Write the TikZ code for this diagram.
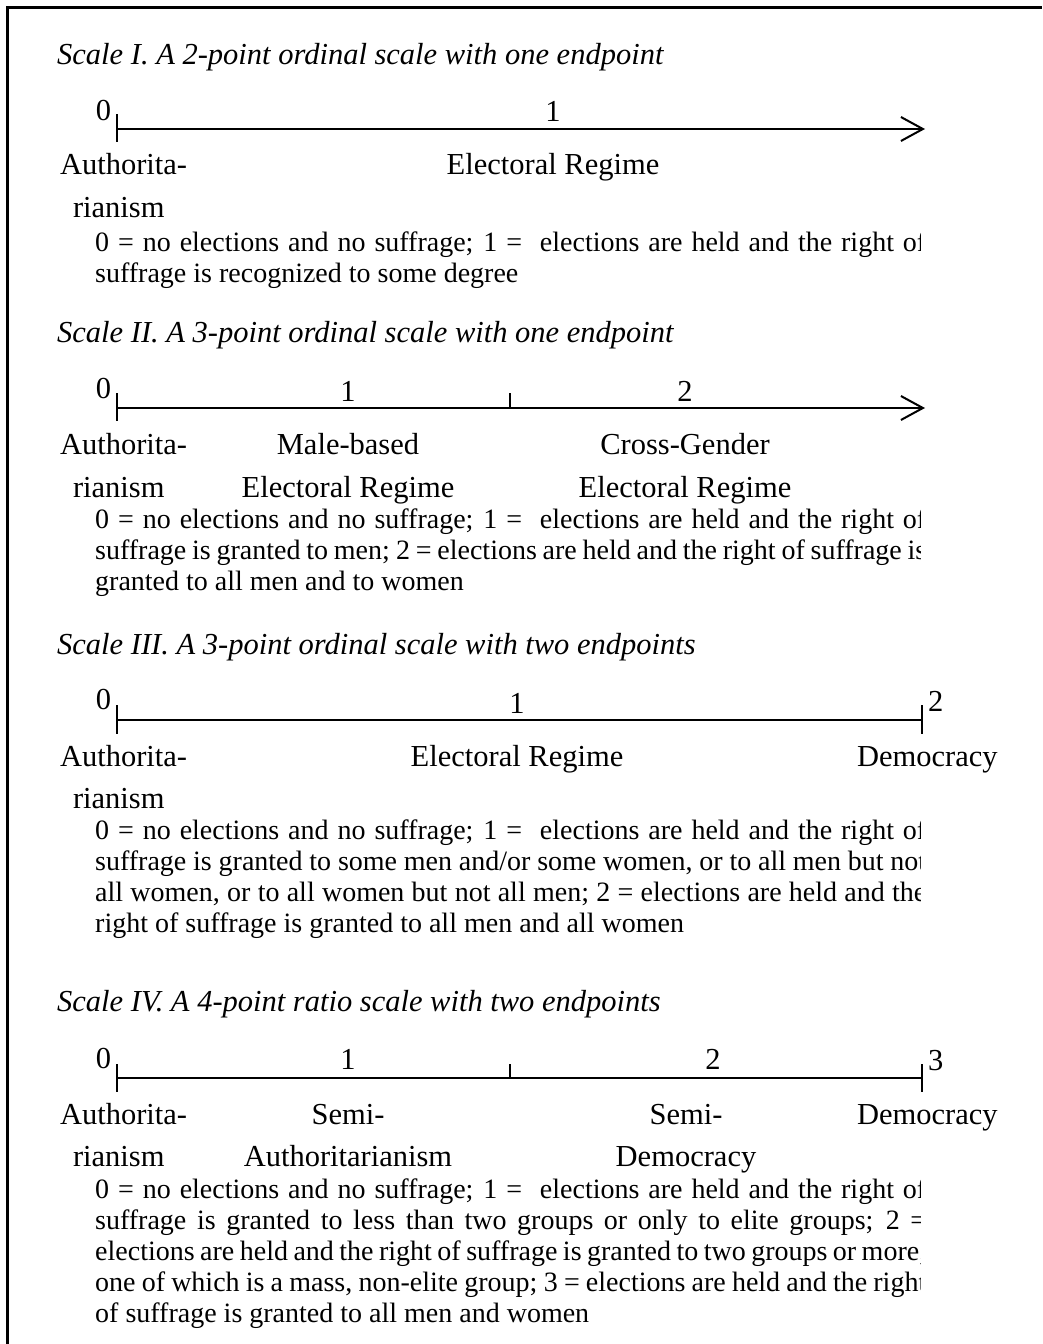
\documentclass[tikz,border=0pt]{standalone}
\usepackage{fontspec}
\setmainfont{Liberation Serif}
\usetikzlibrary{arrows.meta}
\tikzset{
  lbl/.style={font=\fontsize{30.5}{36}\selectfont, inner sep=0pt, outer sep=0pt},
  head/.style={font=\fontsize{30.5}{36}\selectfont\itshape, inner sep=0pt, anchor=base west},
  desc/.style={font=\fontsize{28}{31}\selectfont, inner sep=0pt, anchor=base west},
  axis/.style={line width=2pt},
  tickmark/.style={line width=2.5pt},
  arr/.style={-{Straight Barb[length=22pt,width=24pt,line width=2pt]}},
}
\newcommand{\jline}[1]{\makebox[831pt][s]{#1}}
\begin{document}
\begin{tikzpicture}[x=1pt,y=-1pt]
\useasboundingbox (0,0) rectangle (1042,1344);
% frame
\draw[line width=3pt] (7,1344) -- (7,7) -- (1042,7);

% ---------------- Scale I
\node[head] (h1) at (57,64) {Scale I. A 2-point ordinal scale with one endpoint};
\coordinate (s1) at (117,129);
\coordinate (e1) at (925,129);
\draw[axis,arr] (s1) -- (e1);
\draw[tickmark] (117,114) -- (117,142);
\node[lbl,anchor=base east] (z1) at (111,120) {0};
\node[lbl,anchor=base] (o1) at (553,121) {1};
\node[lbl,anchor=base west] (a1) at (60,174) {Authorita-};
\node[lbl,anchor=base west] (r1) at (73,217) {rianism};
\node[lbl,anchor=base] (er1) at (553,174) {Electoral Regime};

% ---------------- Scale II
\node[head] (h2) at (57,342) {Scale II. A 3-point ordinal scale with one endpoint};
\coordinate (s2) at (117,408);
\coordinate (e2) at (925,408);
\draw[axis,arr] (s2) -- (e2);
\draw[tickmark] (117,393) -- (117,421);
\draw[tickmark] (510,393) -- (510,408);
\node[lbl,anchor=base east] (z2) at (111,398) {0};
\node[lbl,anchor=base] (o2) at (348,401) {1};
\node[lbl,anchor=base] (t2) at (685,401) {2};
\node[lbl,anchor=base west] (a2) at (60,454) {Authorita-};
\node[lbl,anchor=base west] (r2) at (73,497) {rianism};
\node[lbl,anchor=base] (mb2) at (348,454) {Male-based};
\node[lbl,anchor=base] (mr2) at (348,497) {Electoral Regime};
\node[lbl,anchor=base] (cg2) at (685,454) {Cross-Gender};
\node[lbl,anchor=base] (cr2) at (685,497) {Electoral Regime};

% ---------------- Scale III
\node[head] (h3) at (57,654) {Scale III. A 3-point ordinal scale with two endpoints};
\coordinate (s3) at (117,720);
\coordinate (e3) at (922,720);
\draw[axis] (s3) -- (e3);
\draw[tickmark] (117,705) -- (117,734);
\draw[tickmark] (922,705) -- (922,734);
\node[lbl,anchor=base east] (z3) at (111,709) {0};
\node[lbl,anchor=base] (o3) at (517,713) {1};
\node[lbl,anchor=base west] (t3) at (928,711) {2};
\node[lbl,anchor=base west] (a3) at (60,766) {Authorita-};
\node[lbl,anchor=base west] (r3) at (73,808) {rianism};
\node[lbl,anchor=base] (er3) at (517,766) {Electoral Regime};
\node[lbl,anchor=base west] (d3) at (857,766) {Democracy};

% ---------------- Scale IV
\node[head] (h4) at (57,1011) {Scale IV. A 4-point ratio scale with two endpoints};
\coordinate (s4) at (117,1078);
\coordinate (e4) at (922,1078);
\draw[axis] (s4) -- (e4);
\draw[tickmark] (117,1064) -- (117,1092);
\draw[tickmark] (510,1064) -- (510,1078);
\draw[tickmark] (922,1064) -- (922,1092);
\node[lbl,anchor=base east] (z4) at (111,1068) {0};
\node[lbl,anchor=base] (o4) at (348,1069) {1};
\node[lbl,anchor=base] (t4) at (713,1069) {2};
\node[lbl,anchor=base west] (th4) at (928,1070) {3};
\node[lbl,anchor=base west] (a4) at (60,1124) {Authorita-};
\node[lbl,anchor=base west] (r4) at (73,1166) {rianism};
\node[lbl,anchor=base] (sa4) at (348,1124) {Semi-};
\node[lbl,anchor=base] (sb4) at (348,1166) {Authoritarianism};
\node[lbl,anchor=base] (sd4) at (686,1124) {Semi-};
\node[lbl,anchor=base] (se4) at (686,1166) {Democracy};
\node[lbl,anchor=base west] (d4) at (857,1124) {Democracy};

% ---------------- descriptions (clipped at right)
\begin{scope}
\clip (0,0) rectangle (920,1344);
% I
\node[desc] (d1a) at (95,251) {\jline{0 = no elections and no suffrage; 1 =\ \ elections are held and the right of}};
\node[desc] (d1b) at (95,282) {suffrage is recognized to some degree};
% II
\node[desc] (d2a) at (95,528) {\jline{0 = no elections and no suffrage; 1 =\ \ elections are held and the right of}};
\node[desc] (d2b) at (95,559) {\jline{suffrage is granted to men; 2 = elections are held and the right of suffrage is}};
\node[desc] (d2c) at (95,590) {granted to all men and to women};
% III
\node[desc] (d3a) at (95,839) {\jline{0 = no elections and no suffrage; 1 =\ \ elections are held and the right of}};
\node[desc] (d3b) at (95,870) {\jline{suffrage is granted to some men and/or some women, or to all men but not}};
\node[desc] (d3c) at (95,901) {\jline{all women, or to all women but not all men; 2 = elections are held and the}};
\node[desc] (d3d) at (95,932) {right of suffrage is granted to all men and all women};
% IV
\node[desc] (d4a) at (95,1198) {\jline{0 = no elections and no suffrage; 1 =\ \ elections are held and the right of}};
\node[desc] (d4b) at (95,1229) {\jline{suffrage is granted to less than two groups or only to elite groups; 2 =}};
\node[desc] (d4c) at (95,1260) {\jline{elections are held and the right of suffrage is granted to two groups or more,}};
\node[desc] (d4d) at (95,1291) {\jline{one of which is a mass, non-elite group; 3 = elections are held and the right}};
\node[desc] (d4e) at (95,1322) {of suffrage is granted to all men and women};
\end{scope}
\end{tikzpicture}
\end{document}
